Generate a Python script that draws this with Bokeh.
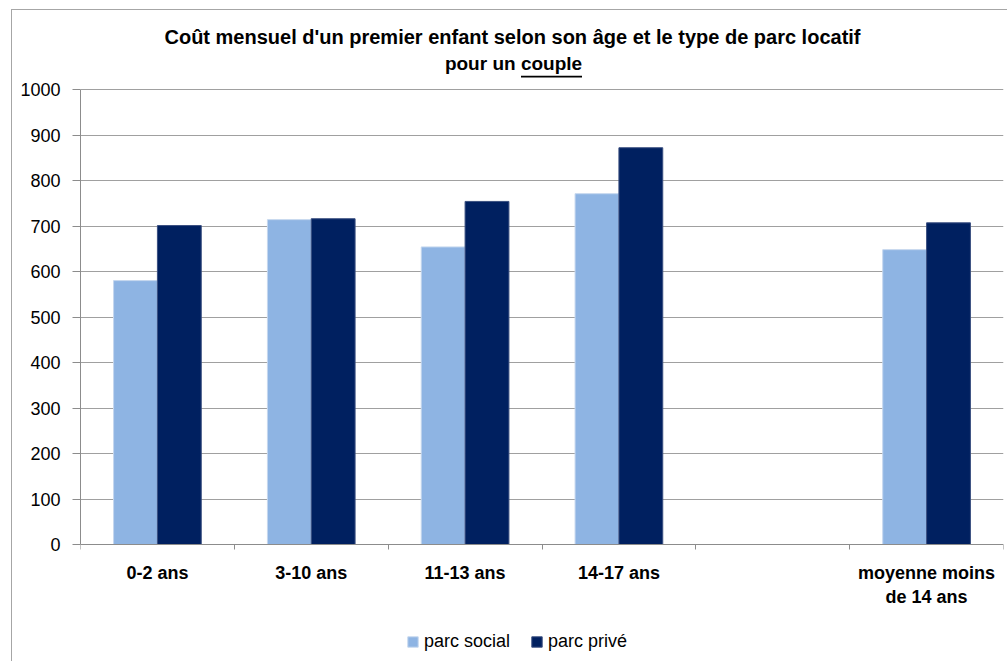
import math
from bokeh.plotting import figure
from bokeh.models import (ColumnDataSource, FixedTicker, Label, Legend,
                          LegendItem, Range1d, BoxAnnotation)
from bokeh.embed import file_html
from bokeh.resources import INLINE

# Monthly cost of a first child by age and type of rental housing (couple)
categories = ["0-2 ans", "3-10 ans", "11-13 ans", "14-17 ans", "", "moyenne moins\nde 14 ans"]
parc_social = [580, 714, 654, 771, float("nan"), 648]
parc_prive = [701, 716, 754, 872, float("nan"), 707]
y_ticks = [0, 100, 200, 300, 400, 500, 600, 700, 800, 900, 1000]
title_line1 = "Coût mensuel d'un premier enfant selon son âge et le type de parc locatif"
title_line2 = "pour un couple"

FONT = "Liberation Sans"
LIGHT = "#8EB4E3"
DARK = "#002060"
GREY = "#8C8C8C"

n = len(categories)
centers = [i + 0.5 for i in range(n)]
bar_w = 0.285

keep = [i for i in range(n) if not math.isnan(parc_social[i])]
src_social = ColumnDataSource(dict(x=[centers[i] - bar_w / 2 for i in keep],
                                   top=[parc_social[i] for i in keep]))
src_prive = ColumnDataSource(dict(x=[centers[i] + bar_w / 2 for i in keep],
                                  top=[parc_prive[i] for i in keep]))

# The frame spans the whole chart height (title block, plot, category labels
# and legend); the value axis stops at 1000 and the category axis sits at 0.
PLOT_H = 455          # pixels for 0..1000
ABOVE_H = 79          # pixels above 1000
BELOW_H = 117         # pixels below 0
FRAME_H = ABOVE_H + PLOT_H + BELOW_H
px_per_unit = PLOT_H / 1000
p = figure(frame_width=923, frame_height=FRAME_H, output_backend="svg",
           toolbar_location=None,
           x_range=Range1d(0, n),
           y_range=Range1d(-BELOW_H / px_per_unit, (PLOT_H + ABOVE_H) / px_per_unit),
           min_border_left=68, min_border_right=4, min_border_top=0,
           min_border_bottom=0)
p.background_fill_color = "white"
p.border_fill_color = "white"
p.outline_line_color = None
p.styles = {"margin-left": "11px", "margin-top": "9px",
            "border-left": "1px solid #A6A6A6", "border-top": "1px solid #A6A6A6"}

r1 = p.vbar(x="x", top="top", width=bar_w, source=src_social,
            fill_color=LIGHT, line_color="#C5D7EE", line_width=1)
r2 = p.vbar(x="x", top="top", width=bar_w, source=src_prive,
            fill_color=DARK, line_color="#3A4F80", line_width=1)

# y axis
p.yaxis.ticker = FixedTicker(ticks=y_ticks)
p.yaxis.bounds = (y_ticks[0], y_ticks[-1])
p.yaxis.axis_line_color = GREY
p.yaxis.major_tick_line_color = GREY
p.yaxis.major_tick_in = 0
p.yaxis.major_tick_out = 8
p.yaxis.minor_tick_line_color = None
p.yaxis.major_label_text_font = FONT
p.yaxis.major_label_text_font_size = "18px"
p.yaxis.major_label_text_color = "black"
p.yaxis.major_label_standoff = 12

# x axis at y=0: labels at category centres, ticks at category boundaries
p.xaxis.fixed_location = 0
p.xaxis.ticker = FixedTicker(ticks=centers, minor_ticks=list(range(n + 1)))
p.xaxis.major_label_overrides = {c: lab for c, lab in zip(centers, categories)}
p.xaxis.axis_line_color = GREY
p.xaxis.major_tick_line_color = None
p.xaxis.minor_tick_line_color = GREY
p.xaxis.minor_tick_in = 0
p.xaxis.minor_tick_out = 5
p.xaxis.major_label_text_font = FONT
p.xaxis.major_label_text_font_style = "bold"
p.xaxis.major_label_text_font_size = "18px"
p.xaxis.major_label_text_color = "black"
p.xaxis.major_label_standoff = 12

p.xgrid.grid_line_color = None
p.ygrid.ticker = FixedTicker(ticks=y_ticks[1:])
p.ygrid.grid_line_color = "#A0A0A0"
p.ygrid.grid_line_width = 1

# title (screen units are measured from the frame's lower-left corner)
top_px = FRAME_H
p.add_layout(Label(x=432, y=top_px - 26, x_units="screen", y_units="screen",
                   text=title_line1, text_color="black",
                   text_font=FONT, text_font_style="bold", text_font_size="20px",
                   text_align="center", text_baseline="middle"))
p.add_layout(Label(x=433, y=top_px - 53, x_units="screen", y_units="screen",
                   text=title_line2, text_color="black",
                   text_font=FONT, text_font_style="bold", text_font_size="19px",
                   text_align="center", text_baseline="middle"))
# underline under "couple"
p.add_layout(BoxAnnotation(left=440.5, right=501.5,
                           bottom=top_px - 67.0, top=top_px - 65.2,
                           left_units="screen", right_units="screen",
                           top_units="screen", bottom_units="screen",
                           fill_color="black", fill_alpha=1, line_color=None))

legend = Legend(items=[LegendItem(label="parc social", renderers=[r1]),
                       LegendItem(label="parc privé", renderers=[r2])],
                orientation="horizontal", location=(326, 9),
                label_text_font=FONT, label_text_font_size="18px",
                label_text_color="black",
                label_standoff=5, glyph_width=13, glyph_height=13, spacing=20,
                padding=5, margin=0,
                border_line_color=None, background_fill_alpha=0)
p.add_layout(legend, "center")

open("out.html", "w").write(file_html(p, INLINE))
